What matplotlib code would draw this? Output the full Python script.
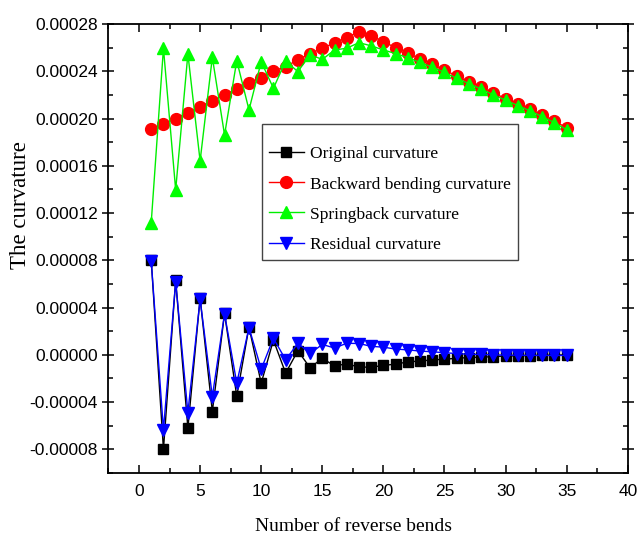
import matplotlib.pyplot as plt
from matplotlib.ticker import MultipleLocator, FormatStrFormatter
import numpy as np

n = np.arange(1, 36)

original = [8.0e-5, -8.0e-5, 6.3e-5, -6.2e-5, 4.8e-5, -4.8e-5, 3.5e-5, -3.5e-5, 2.35e-5, -2.4e-5,
            1.25e-5, -1.55e-5, 3.5e-6, -1.1e-5, -2.8e-6, -9.5e-6, -7.5e-6, -1.04e-5, -1.04e-5, -9.0e-6,
            -7.8e-6, -6.0e-6, -5.2e-6, -4.3e-6, -3.7e-6, -2.9e-6, -2.3e-6, -2.0e-6, -1.5e-6, -1.0e-6,
            -8.0e-7, -6.0e-7, -4.0e-7, -2.0e-7, 0.0]
backward = [1.91e-4, 1.954e-4, 2.0e-4, 2.05e-4, 2.1e-4, 2.15e-4, 2.2e-4, 2.25e-4, 2.3e-4, 2.346e-4,
            2.4e-4, 2.44e-4, 2.496e-4, 2.55e-4, 2.595e-4, 2.64e-4, 2.685e-4, 2.735e-4, 2.7e-4, 2.65e-4,
            2.6e-4, 2.555e-4, 2.505e-4, 2.46e-4, 2.41e-4, 2.36e-4, 2.31e-4, 2.265e-4, 2.218e-4, 2.168e-4,
            2.122e-4, 2.078e-4, 2.03e-4, 1.98e-4, 1.92e-4]
springback = [1.12e-4, 2.595e-4, 1.396e-4, 2.547e-4, 1.641e-4, 2.518e-4, 1.861e-4, 2.49e-4, 2.073e-4, 2.481e-4,
              2.256e-4, 2.487e-4, 2.397e-4, 2.54e-4, 2.5e-4, 2.58e-4, 2.595e-4, 2.642e-4, 2.615e-4, 2.58e-4,
              2.55e-4, 2.515e-4, 2.475e-4, 2.435e-4, 2.39e-4, 2.34e-4, 2.295e-4, 2.25e-4, 2.2e-4, 2.155e-4,
              2.11e-4, 2.065e-4, 2.015e-4, 1.965e-4, 1.905e-4]
residual = [7.95e-5, -6.35e-5, 6.2e-5, -4.88e-5, 4.71e-5, -3.53e-5, 3.47e-5, -2.4e-5, 2.31e-5, -1.21e-5,
            1.41e-5, -4.2e-6, 9.8e-6, 1.2e-6, 8.8e-6, 5.8e-6, 9.8e-6, 9.6e-6, 7.2e-6, 6.5e-6,
            4.9e-6, 4.2e-6, 3.2e-6, 2.6e-6, 1.8e-6, 1.1e-6, 5.0e-7, 3.0e-7, 0.0, -2.0e-7,
            -3.0e-7, -4.0e-7, -5.0e-7, -5.0e-7, -5.0e-7]

fig = plt.figure(figsize=(6.38, 5.38), dpi=100)
ax = fig.add_axes([0.170, 0.1208, 0.814, 0.8346])

ax.plot(n, original, '-s', color='black', mfc='black', mec='black', lw=1, ms=7.5, label='Original curvature')
ax.plot(n, backward, '-o', color='#ff0000', mfc='#ff0000', mec='#ff0000', lw=1, ms=8.5, label='Backward bending curvature')
ax.plot(n, springback, '-^', color='#00ee00', mfc='#00ff00', mec='#00ff00', lw=1, ms=9, label='Springback curvature')
ax.plot(n, residual, '-v', color='#0000ff', mfc='#0000ff', mec='#0000ff', lw=1, ms=9, label='Residual curvature')

ax.set_xlim(-2.5, 40)
ax.set_ylim(-0.0001, 0.00028)
ax.xaxis.set_major_locator(MultipleLocator(5))
ax.xaxis.set_minor_locator(MultipleLocator(2.5))
ax.yaxis.set_major_locator(MultipleLocator(0.00004))
ax.yaxis.set_minor_locator(MultipleLocator(0.00002))
ax.yaxis.set_major_formatter(FormatStrFormatter('%.5f'))

for s in ax.spines.values():
    s.set_linewidth(1.3)
ax.tick_params(which='both', direction='in', top=True, right=True, width=1.1,
               labelsize=12.5, labelfontfamily='Liberation Sans')
ax.tick_params(which='major', length=6)
ax.tick_params(which='minor', length=3.5)
ax.tick_params(axis='y', which='major', direction='inout', length=8)
ax.tick_params(axis='x', pad=8)

ax.set_xlabel('Number of reverse bends', family='Liberation Serif', fontsize=14)
ax.set_ylabel('The curvature', family='Liberation Serif', fontsize=16.5)
ax.xaxis.set_label_coords(0.472, -0.1)
ax.yaxis.set_label_coords(-0.150, 0.597)

# empty tiny title only adds some space above the first row
leg = ax.legend(loc='upper left', bbox_to_anchor=(0.295, 0.777), borderaxespad=0,
                prop={'family': 'Liberation Serif', 'size': 12.5}, fancybox=False,
                edgecolor='#444444', framealpha=1, numpoints=1, handlelength=2.0,
                handletextpad=0.35, labelspacing=0.8, borderpad=0.42,
                title=' ', title_fontsize=1)
leg.get_frame().set_linewidth(1.0)

fig.savefig('out.png', dpi=100)
